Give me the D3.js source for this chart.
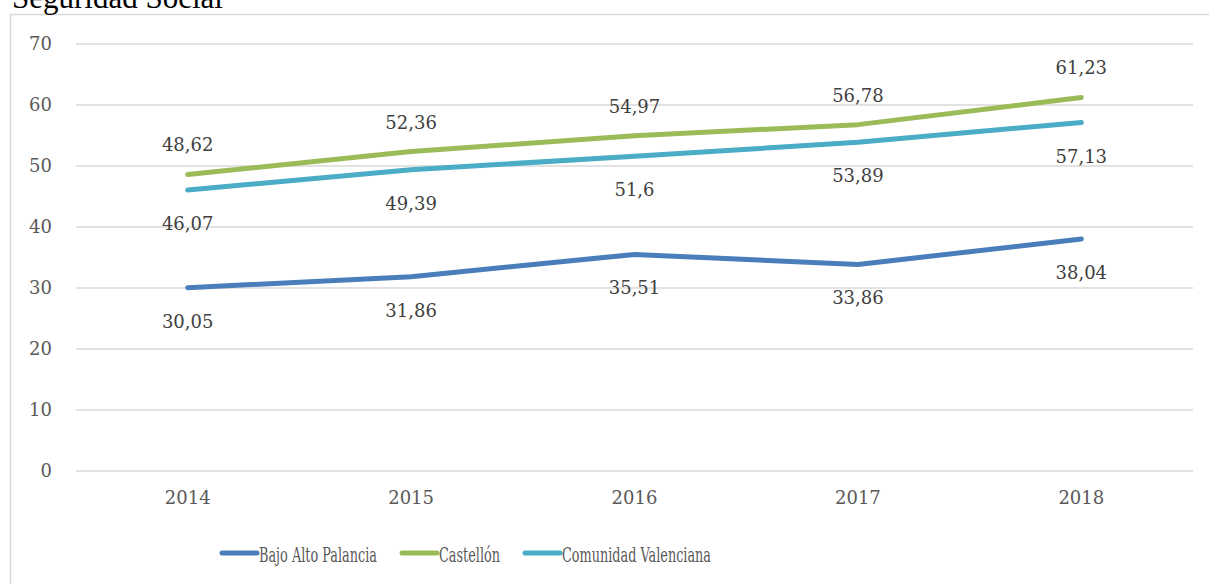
<!DOCTYPE html>
<html>
<head>
<meta charset="utf-8">
<script src="https://cdn.jsdelivr.net/npm/d3@7"></script>
<style>
  body { margin: 0; background: #fff; }
  svg { display: block; }
</style>
</head>
<body>
<svg></svg>
<script>
let years = ["2014", "2015", "2016", "2017", "2018"];
let bajo = [30.05, 31.86, 35.51, 33.86, 38.04];
let castellon = [48.62, 52.36, 54.97, 56.78, 61.23];
let comunidad = [46.07, 49.39, 51.6, 53.89, 57.13];
let yTicks = [0, 10, 20, 30, 40, 50, 60, 70];

let series = [
  { name: "Bajo Alto Palancia", values: bajo, color: "#4a7ebb", pos: "below" },
  { name: "Castellón", values: castellon, color: "#9bbb59", pos: "above" },
  { name: "Comunidad Valenciana", values: comunidad, color: "#4bacc6", pos: "below" },
];

let width = 1209;
let height = 584;
let plotLeft = 76;
let plotRight = 1193;
let plotTop = 44;
let plotBottom = 471;

let svg = d3.select("svg").attr("width", width).attr("height", height);
const font = "'DejaVu Serif', serif";

// chart frame + title (cut at the top edge, as in the source)
svg.append("rect")
  .attr("x", 10.5).attr("y", 14.5)
  .attr("width", 1220).attr("height", 600)
  .attr("fill", "none").attr("stroke", "#d9d9d9").attr("stroke-width", 1.5);

svg.append("text")
  .attr("x", 12).attr("y", 8)
  .attr("font-family", "'Liberation Serif', serif")
  .attr("font-size", 31)
  .attr("fill", "#000")
  .text("Seguridad Social");

let xScale = d3.scaleBand().domain(years).range([plotLeft, plotRight]);
let yScale = d3.scaleLinear().domain([0, 70]).range([plotBottom, plotTop]);

// gridlines
svg.append("g")
  .selectAll("line")
  .data(yTicks)
  .enter()
  .append("line")
  .attr("x1", plotLeft).attr("x2", plotRight)
  .attr("y1", (d) => yScale(d)).attr("y2", (d) => yScale(d))
  .attr("stroke", "#d9d9d9").attr("stroke-width", 1.5);

let yAxis = d3.axisLeft(yScale).tickValues(yTicks).tickSize(0).tickPadding(24);
let yg = svg.append("g").attr("transform", `translate(${plotLeft}, 0)`).call(yAxis);
yg.select(".domain").remove();
yg.selectAll("text").attr("font-family", font).attr("font-size", 18).attr("fill", "#595959");

let xAxis = d3.axisBottom(xScale).tickSize(0).tickPadding(20);
let xg = svg.append("g").attr("transform", `translate(0, ${plotBottom})`).call(xAxis);
xg.select(".domain").remove();
xg.selectAll("text").attr("font-family", font).attr("font-size", 18).attr("fill", "#595959");

let line = d3.line()
  .x((d, i) => xScale(years[i]) + xScale.bandwidth() / 2)
  .y((d) => yScale(d));

series.forEach((s) => {
  svg.append("path")
    .attr("d", line(s.values))
    .attr("fill", "none")
    .attr("stroke", s.color)
    .attr("stroke-width", 5)
    .attr("stroke-linecap", "round")
    .attr("stroke-linejoin", "round");
});

series.forEach((s) => {
  svg.append("g")
    .selectAll("text")
    .data(s.values)
    .enter()
    .append("text")
    .attr("x", (d, i) => xScale(years[i]) + xScale.bandwidth() / 2)
    .attr("y", (d) => yScale(d) + (s.pos == "above" ? -23 : 40))
    .attr("text-anchor", "middle")
    .attr("font-family", font)
    .attr("font-size", 18)
    .attr("fill", "#404040")
    .text((d) => String(d).replace(".", ","));
});

// legend
let legendX = [222, 402, 525];
let legendW = [118, 61, 149];
series.forEach((s, i) => {
  let g = svg.append("g").attr("transform", `translate(${legendX[i]}, 553)`);
  g.append("line")
    .attr("x1", 0).attr("x2", 35)
    .attr("stroke", s.color).attr("stroke-width", 5).attr("stroke-linecap", "round");
  g.append("text")
    .attr("x", 37).attr("y", 8.5)
    .attr("font-family", font)
    .attr("font-size", 20)
    .attr("fill", "#595959")
    .attr("textLength", legendW[i])
    .attr("lengthAdjust", "spacingAndGlyphs")
    .text(s.name);
});
</script>
</body>
</html>
